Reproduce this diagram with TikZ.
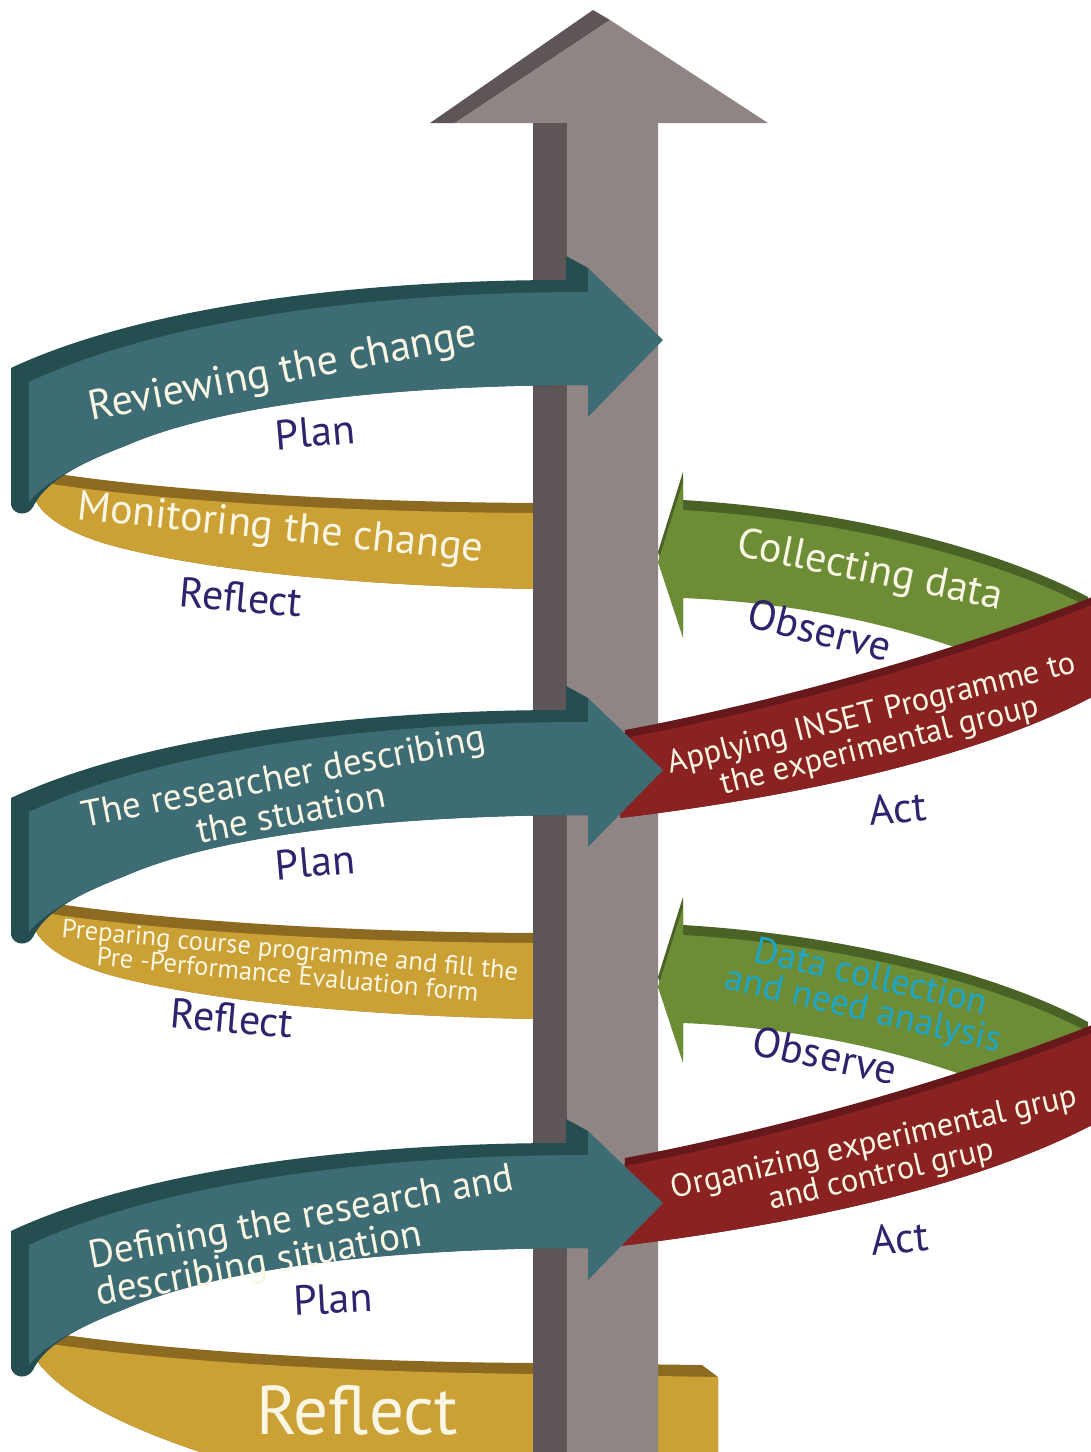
\documentclass[tikz,border=0pt]{standalone}
\usepackage{fontspec}
\setmainfont{PT Sans}
\usepackage{tikz}
\usepackage{xcolor}
\usetikzlibrary{positioning}

\definecolor{tealfront}{RGB}{62,108,116}
\definecolor{tealdark}{RGB}{36,78,80}
\definecolor{goldfront}{RGB}{203,160,52}
\definecolor{golddark}{RGB}{140,106,34}
\definecolor{greenfront}{RGB}{108,140,54}
\definecolor{greendark}{RGB}{74,98,38}
\definecolor{redfront}{RGB}{138,34,34}
\definecolor{reddark}{RGB}{102,24,26}
\definecolor{polelight}{RGB}{142,133,132}
\definecolor{poledark}{RGB}{94,86,86}
\definecolor{stagecol}{RGB}{48,34,108}
\definecolor{cyantext}{RGB}{30,166,200}
\definecolor{creamtext}{RGB}{250,246,228}

\begin{document}
\begin{tikzpicture}[
    x=0.5pt, y=-0.5pt,
    bandtext/.style={text=creamtext, inner sep=0pt, align=center, font=\fontsize{21}{19}\selectfont},
    smalltext/.style={bandtext, font=\fontsize{16.2}{16.5}\selectfont},
    stagetext/.style={text=stagecol, inner sep=0pt, font=\fontsize{21}{22}\selectfont},
    plan ribbon/.pic={
        \fill[tealdark] (11,368) .. controls (128,313) and (328,280) .. (566,280) -- (566,256) -- (588,268) -- (588,385)
            .. controls (420,385) and (230,400) .. (125,446) .. controls (78,464) and (45,482) .. (33,507)
            .. controls (28,516) and (14,516) .. (11,505) -- cycle;
        \fill[tealfront] (29,382) .. controls (150,325) and (350,292) .. (588,292) -- (588,268) -- (663,340) -- (588,417) -- (588,385)
            .. controls (420,385) and (230,400) .. (125,446) .. controls (78,464) and (45,482) .. (29,502) -- cycle;
    },
    reflect ribbon/.pic={
        \fill[golddark] (33,470) .. controls (120,485) and (300,502) .. (540,503) -- (540,589)
            .. controls (400,587) and (220,575) .. (110,545) .. controls (65,532) and (40,515) .. (33,495) -- cycle;
        \fill[goldfront] (33,481) .. controls (120,496) and (300,512) .. (540,513) -- (540,589)
            .. controls (400,587) and (220,575) .. (110,545) .. controls (65,532) and (40,515) .. (33,495) -- cycle;
    },
    observe ribbon/.pic={
        \fill[greendark] (683,472) -- (658,552) -- (683,630) -- (683,588) .. controls (800,593) and (900,615) .. (990,650)
            -- (1088,630) -- (1088,597) .. controls (1000,550) and (850,510) .. (683,500) -- cycle;
        \fill[greenfront] (683,482) -- (658,562) -- (683,638) -- (683,598) .. controls (800,603) and (900,625) .. (990,660)
            -- (1088,640) -- (1088,607) .. controls (1000,560) and (850,520) .. (683,510) -- cycle;
    },
    act ribbon/.pic={
        \fill[reddark] (625,730) .. controls (800,697) and (980,642) .. (1092,597) -- (1092,697)
            .. controls (1000,745) and (850,790) .. (620,818) -- cycle;
        \fill[redfront] (625,738) .. controls (800,705) and (980,650) .. (1092,605) -- (1092,697)
            .. controls (1000,745) and (850,790) .. (620,818) -- cycle;
    }
]

\fill[white] (0,0) rectangle (1091,1452);
\clip (0,0) rectangle (1091,1452);

% Reflect ribbons (behind the pole)
\pic at (0,0) {reflect ribbon};
\pic at (0,430) {reflect ribbon};
\fill[golddark] (33,1330) .. controls (120,1345) and (300,1362) .. (540,1363) -- (702,1365) -- (718,1377) -- (718,1470) -- (260,1470)
    .. controls (150,1440) and (60,1400) .. (33,1355) -- cycle;
\fill[goldfront] (33,1341) .. controls (120,1356) and (300,1372) .. (540,1374) -- (718,1377) -- (718,1470) -- (260,1470)
    .. controls (150,1440) and (60,1400) .. (33,1355) -- cycle;

% Pole
\fill[poledark] (430,123) -- (593,10) -- (610,20) -- (455,123) -- cycle;
\fill[polelight] (455,123) -- (610,20) -- (768,123) -- (658,123) -- (658,1460) -- (567,1460) -- (567,123) -- cycle;
\fill[poledark] (533,123) rectangle (567,1460);

% Observe and Act ribbons
\pic at (0,0) {observe ribbon};
\pic at (0,425) {observe ribbon};
\pic at (0,0) {act ribbon};
\pic at (0,428) {act ribbon};

% Plan ribbons
\pic at (0,0) {plan ribbon};
\pic at (0,430) {plan ribbon};
\pic at (0,863) {plan ribbon};

% Cycle 1
\node[bandtext, rotate=11] (review) at (283,373) {Reviewing the change};
\node[stagetext, rotate=5] (plan-a) at (315,432) {Plan};
\node[bandtext, rotate=-6] (monitor) at (280,530) {Monitoring the change};
\node[stagetext, rotate=-5] (reflect-a) at (241,597) {Reflect};
\node[bandtext, rotate=-11.5] (collect) at (870,572) {Collecting data};
\node[stagetext, rotate=-14] (observe-a) at (820,630) {Observe};
\node[smalltext, rotate=14] (apply) at (876,731) {Applying INSET Programme to\\the experimental group};
\node[stagetext, rotate=5] (act-a) at (898,808) {Act};

% Cycle 2
\node[bandtext, rotate=11, font=\fontsize{18.6}{19}\selectfont] (researcher) at (287,794) {The researcher describing\\the stuation};
\node[stagetext, rotate=5] (plan-b) at (315,862) {Plan};
\node[bandtext, rotate=-5.4, font=\fontsize{13.3}{12.5}\selectfont] (prepare) at (289,962) {Preparing course programme and fill the\\Pre -Performance Evaluation form};
\node[stagetext, rotate=-5] (reflect-b) at (232,1018) {Reflect};
\node[bandtext, rotate=-13, text=cyantext, font=\fontsize{18.5}{16.5}\selectfont] (needs) at (867,995) {Data collection\\and need analysis};
\node[stagetext, rotate=-12] (observe-b) at (825,1055) {Observe};
\node[smalltext, rotate=13] (organize) at (878,1160) {Organizing experimental grup\\and control grup};
\node[stagetext, rotate=5] (act-b) at (900,1238) {Act};

% Cycle 3
\node[bandtext, rotate=10.5, align=left, font=\fontsize{19.6}{18}\selectfont] (define) at (305,1238) {Defining the research and\\describing situation};
\node[stagetext, rotate=3] (plan-c) at (333,1299) {Plan};
\node[bandtext, font=\fontsize{34.5}{36}\selectfont] (reflect-c) at (357,1410) {Reflect};

\end{tikzpicture}
\end{document}
